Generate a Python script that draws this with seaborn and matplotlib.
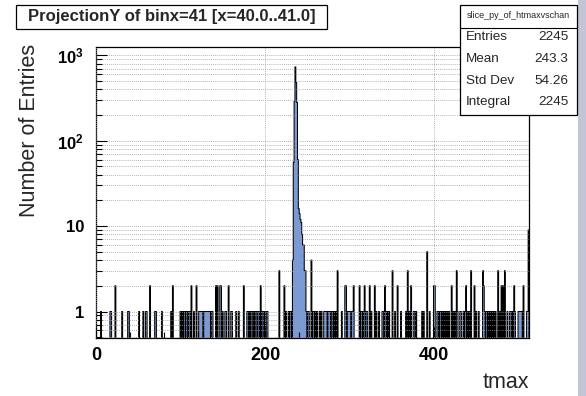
import numpy as np
import pandas as pd
import matplotlib
matplotlib.use("Agg")
import matplotlib.pyplot as plt
from matplotlib.patches import Rectangle
from matplotlib.ticker import FixedLocator, FixedFormatter, LogLocator, NullFormatter, MultipleLocator
import seaborn as sns

# ---------------- data ----------------
n_bins = 512
x_min, x_max = 0, 512

peak_bins = [232, 233, 234, 235, 236, 237, 238, 239, 240, 241, 242, 243, 244, 245, 246, 247, 248]
peak_counts = [4, 56, 290, 730, 480, 280, 60, 16, 14, 12, 11, 8, 6, 6, 3, 3, 1]

bins_one = [5, 16, 17, 30, 37, 38, 50, 55, 58, 59, 69, 70, 77, 88, 99, 101, 103, 104, 106, 107,
            109, 110, 115, 121, 122, 123, 124, 125, 127, 128, 129, 130, 131, 132, 133, 134, 136,
            137, 149, 152, 153, 159, 160, 165, 168, 178, 179, 181, 183, 184, 186, 188, 189, 191,
            192, 196, 197, 199, 201, 202, 224, 227, 229, 230,
            250, 251, 256, 257, 259, 261, 264, 266, 269, 270, 271, 272, 274, 275, 276, 278, 279,
            281, 283, 290, 297, 298, 299, 300, 302, 303, 313, 314, 316, 319, 320, 325, 331, 334,
            338, 339, 342, 344, 346, 353, 360, 366, 370, 375, 376, 378, 385, 387, 394, 403, 404,
            406, 407, 409, 411, 413, 415, 417, 422, 424, 427, 430, 431, 434, 436, 439, 441, 449,
            452, 459, 461, 462, 464, 466, 468, 470, 472, 477, 486, 489, 490, 492, 495, 499, 500,
            501, 502, 503, 509, 510]
bins_two = [22, 63, 90, 112, 118, 141, 143, 146, 147, 156, 174, 194, 222,
            294, 295, 304, 311, 317, 323, 329, 341, 356, 372, 399, 400, 420, 437, 447, 458,
            479, 481, 494, 505]
bins_three = [216, 285, 350, 368, 426, 443, 457, 475, 483]
bins_four = [254]
bins_five = [391]
bins_nine = [511]

title_text = "ProjectionY of binx=41 [x=40.0..41.0]"
stats_name = "slice_py_of_htmaxvschan"
stats_labels = ["Entries", "Mean", "Std Dev", "Integral"]
stats_values = ["2245", "243.3", "54.26", "2245"]
x_label = "tmax"
y_label = "Number of Entries"
x_ticks = [0, 200, 400]
y_ticks = [1, 10, 100, 1000]
y_ticklabels = ["1", "10", r"$\mathbf{10^{2}}$", r"$\mathbf{10^{3}}$"]

# ---------------- build histogram table ----------------
counts = np.zeros(n_bins)
for lst, c in [(bins_one, 1), (bins_two, 2), (bins_three, 3), (bins_four, 4),
               (bins_five, 5), (bins_nine, 9)]:
    for b in lst:
        counts[b] = c
for b, c in zip(peak_bins, peak_counts):
    counts[b] = c
centers = np.arange(x_min, x_max) + 0.5
df = pd.DataFrame({"tmax": centers, "n": counts})

# ---------------- styling ----------------
sns.set_theme(style="white")
plt.rcParams["font.family"] = ["Liberation Sans", "DejaVu Sans"]
plt.rcParams["mathtext.fontset"] = "custom"
plt.rcParams["mathtext.rm"] = "Liberation Sans"
plt.rcParams["mathtext.bf"] = "Liberation Sans:bold"

W, H = 586, 396
fig = plt.figure(figsize=(W / 100, H / 100), dpi=100)
fig.patch.set_facecolor("white")
L, R, T, B = 96.4, 529, 46.7, 338.2
ax = fig.add_axes([L / W, 1 - B / H, (R - L) / W, (B - T) / H])

sns.histplot(data=df, x="tmax", weights="n", binwidth=1, binrange=(x_min, x_max),
             element="step", fill=True, color="#7a9ad6", edgecolor="black",
             linewidth=0.75, alpha=1.0, ax=ax)

ax.set_yscale("log", nonpositive="clip")
ax.set_ylim(0.487, 1260)
ax.set_xlim(x_min, x_max)

# ticks
ax.yaxis.set_major_locator(FixedLocator(y_ticks))
ax.yaxis.set_major_formatter(FixedFormatter(y_ticklabels))
ax.yaxis.set_minor_locator(LogLocator(base=10, subs=np.arange(2, 10)))
ax.yaxis.set_minor_formatter(NullFormatter())
ax.xaxis.set_major_locator(FixedLocator(x_ticks))
ax.xaxis.set_minor_locator(MultipleLocator(40))
ax.tick_params(axis="both", which="major", direction="in", length=8, width=0.8,
               colors="black", labelsize=13)
ax.tick_params(axis="both", which="minor", direction="in", length=4, width=0.8, colors="black")
ax.tick_params(axis="y", which="major", labelsize=12, pad=9)
ax.tick_params(axis="x", which="major", pad=6)
ax.tick_params(axis="y", which="both", left=True, right=False)
ax.tick_params(axis="x", which="both", bottom=True, top=False)
for lab in ax.get_xticklabels() + ax.get_yticklabels():
    lab.set_fontweight("bold")

# grid
ax.set_axisbelow(False)
ax.grid(True, axis="y", which="both", linestyle=(0, (1, 1.5)), color="#9a9a9a", linewidth=0.6)
ax.grid(True, axis="x", which="major", linestyle=(0, (1, 1.5)), color="#9a9a9a", linewidth=0.6)

for s in ax.spines.values():
    s.set_color("black")
    s.set_linewidth(0.9)
    s.set_visible(True)

ax.set_xlabel("")
ax.set_ylabel("")
fig.text(30 / W, 1 - 130 / H, y_label, rotation=90, ha="center", va="center", fontsize=15.5)
fig.text(R / W, 1 - 383 / H, x_label, ha="right", va="center", fontsize=15.5)

# title box
fig.patches.append(Rectangle((15.7 / W, 1 - 29 / H), (327 - 15.7) / W, (29 - 4.5) / H,
                             transform=fig.transFigure, facecolor="white", edgecolor="black",
                             linewidth=0.9, zorder=5))
fig.text((15.7 + 327) / 2 / W, 1 - 17 / H, title_text, ha="center", va="center",
         fontsize=12, fontweight="bold", zorder=6)

# stats box
sx0, sx1, sy0, sy1 = 460, 577, 4.5, 115
fig.patches.append(Rectangle((sx0 / W, 1 - sy1 / H), (sx1 - sx0) / W, (sy1 - sy0) / H,
                             transform=fig.transFigure, facecolor="white", edgecolor="black",
                             linewidth=0.9, zorder=5))
fig.add_artist(plt.Line2D([sx0 / W, sx1 / W], [1 - 28.3 / H, 1 - 28.3 / H],
                          transform=fig.transFigure, color="black", linewidth=0.8, zorder=6))
fig.text((sx0 + sx1) / 2 / W, 1 - 16 / H, stats_name, ha="center", va="center",
         fontsize=6.5, zorder=7)
row_y = [37.5, 59.5, 81.5, 102]
for yy, lab, val in zip(row_y, stats_labels, stats_values):
    fig.text(466 / W, 1 - yy / H, lab, ha="left", va="center", fontsize=9.7, zorder=7)
    fig.text(568.5 / W, 1 - yy / H, val, ha="right", va="center", fontsize=9.7, zorder=7)

# right window strip
fig.patches.append(Rectangle((578 / W, 0), 8 / W, 1, transform=fig.transFigure,
                             facecolor="#c2c5d6", edgecolor="none", zorder=1))

fig.savefig("out.png", dpi=100)
